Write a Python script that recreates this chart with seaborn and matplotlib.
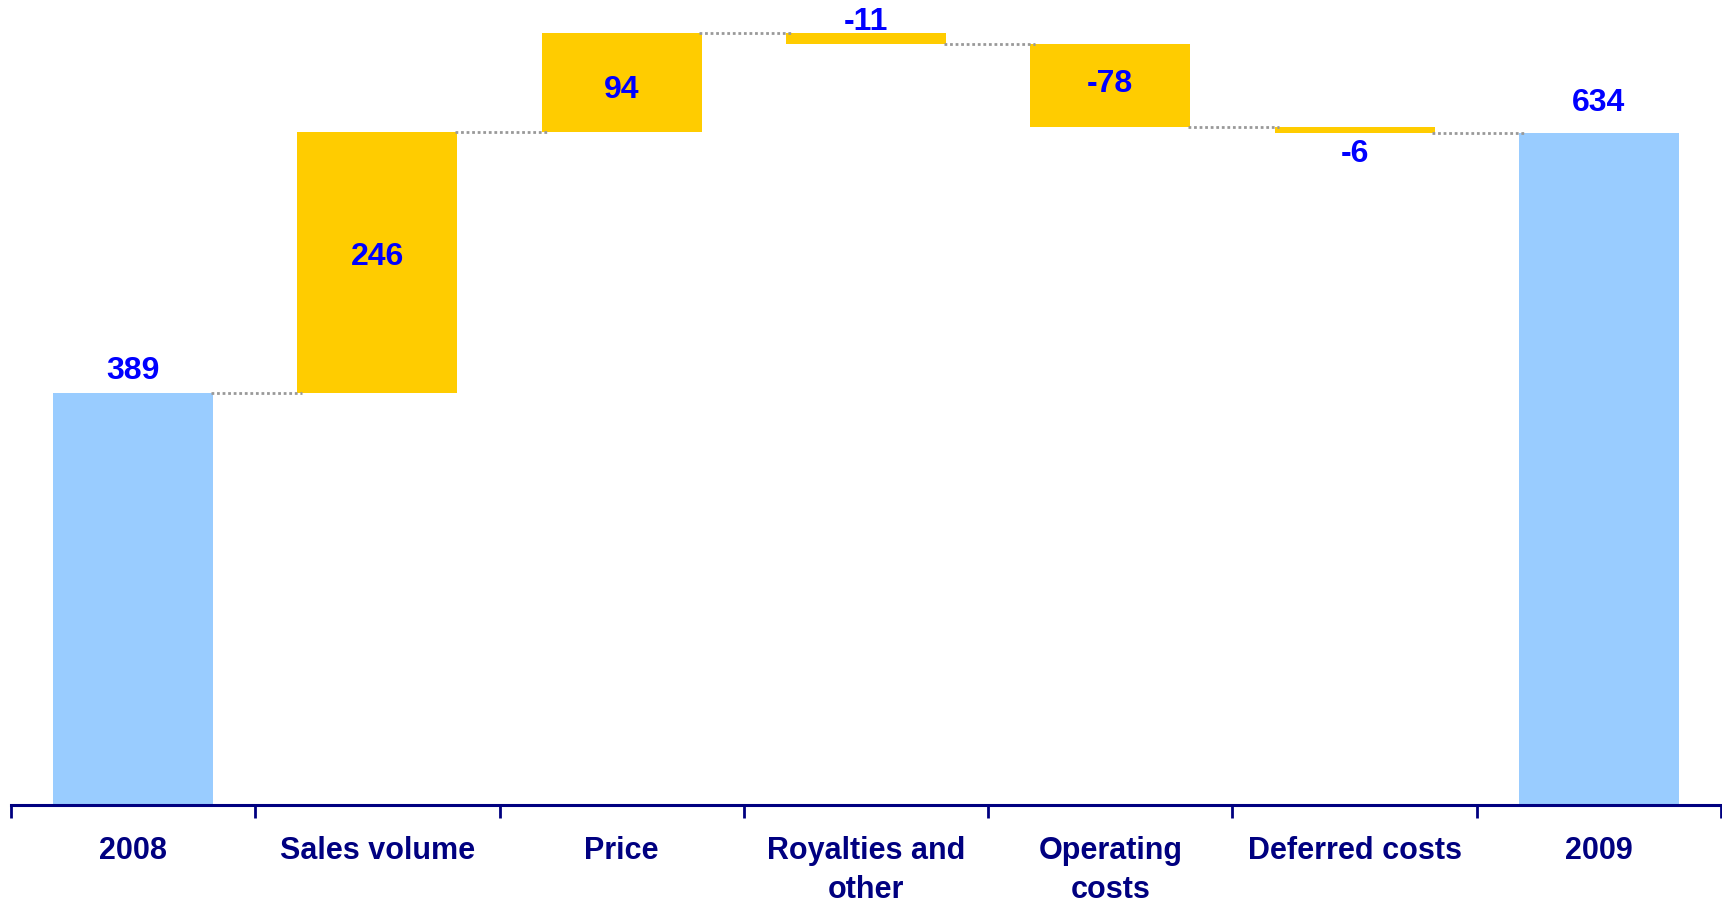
import matplotlib
matplotlib.use("Agg")
import matplotlib.pyplot as plt
import seaborn as sns
import numpy as np
import pandas as pd

# Operating result bridge, 2008 -> 2009
categories = ["2008", "Sales volume", "Price", "Royalties and\nother",
              "Operating\ncosts", "Deferred costs", "2009"]
values = [389, 246, 94, -11, -78, -6, 634]
is_total = [True, False, False, False, False, False, True]
value_labels = ["389", "246", "94", "-11", "-78", "-6", "634"]

# where each value label sits relative to its bar, and its vertical offset in points
label_place = ["above", "inside", "inside", "above", "inside", "below", "above"]
label_offset = [16, 4, -5, 7.5, 1.5, -14.5, 22]

TOTAL_COLOR = "#99CCFF"
DELTA_COLOR = "#FFCC00"
LABEL_COLOR = "#0000FF"
AXIS_COLOR = "#000080"

# running totals -> floating bar spans
bottoms, heights, tops = [], [], []
running = 0
for v, tot in zip(values, is_total):
    if tot:
        b, h = 0, v
        running = v
    else:
        lo, hi = sorted([running, running + v])
        b, h = lo, hi - lo
        running += v
    bottoms.append(b)
    heights.append(h)
    tops.append(running)

df = pd.DataFrame({"category": categories, "span": heights})
palette = [TOTAL_COLOR if t else DELTA_COLOR for t in is_total]

sns.set_theme(style="white")
plt.rcParams["font.family"] = ["Liberation Sans", "DejaVu Sans"]

fig = plt.figure(figsize=(17.22, 9.05), dpi=100)
ax = fig.add_axes([11 / 1722, 100 / 905, 1710 / 1722, 805 / 905])

W = 0.655
sns.barplot(data=df, x="category", y="span", hue="category", order=categories,
            hue_order=categories, palette=palette, width=W, legend=False,
            saturation=1, linewidth=0, ax=ax)

# lift each bar onto its floating base
for p in ax.patches:
    i = int(round(p.get_x() + p.get_width() / 2))
    p.set_y(bottoms[i])

# dotted connectors between consecutive bars
for i in range(len(categories) - 1):
    level = tops[i]
    ax.plot([i + W / 2 - 0.01, i + 1 - W / 2 + 0.02], [level, level],
            color="#999999", lw=2.0, linestyle=(0, (1, 1)), zorder=1)

# value labels
for i, (txt, place, off) in enumerate(zip(value_labels, label_place, label_offset)):
    b, h = bottoms[i], heights[i]
    anchor = {"inside": b + h / 2, "above": b + h, "below": b}[place]
    ax.annotate(txt, (i, anchor), xytext=(0, off), textcoords="offset points",
                ha="center", va="center", color=LABEL_COLOR,
                fontsize=23, fontweight="bold")

ax.set_xlim(-0.5, len(categories) - 0.5)
ax.set_ylim(0, 760)
ax.set_xlabel("")
ax.set_ylabel("")
ax.set_yticks([])

for side in ["top", "right", "left"]:
    ax.spines[side].set_visible(False)
ax.spines["bottom"].set_color(AXIS_COLOR)
ax.spines["bottom"].set_linewidth(2.2)

ax.set_xticks(range(len(categories)))
ax.set_xticklabels(categories, fontsize=22, fontweight="bold", color=AXIS_COLOR,
                   linespacing=1.4)
ax.set_xticks(np.arange(-0.5, len(categories), 1.0), minor=True)
ax.tick_params(axis="x", which="major", length=0, pad=22)
ax.tick_params(axis="x", which="minor", length=9, width=2, color=AXIS_COLOR,
               direction="out", bottom=True)

fig.savefig("out.png", dpi=100, facecolor="white")
